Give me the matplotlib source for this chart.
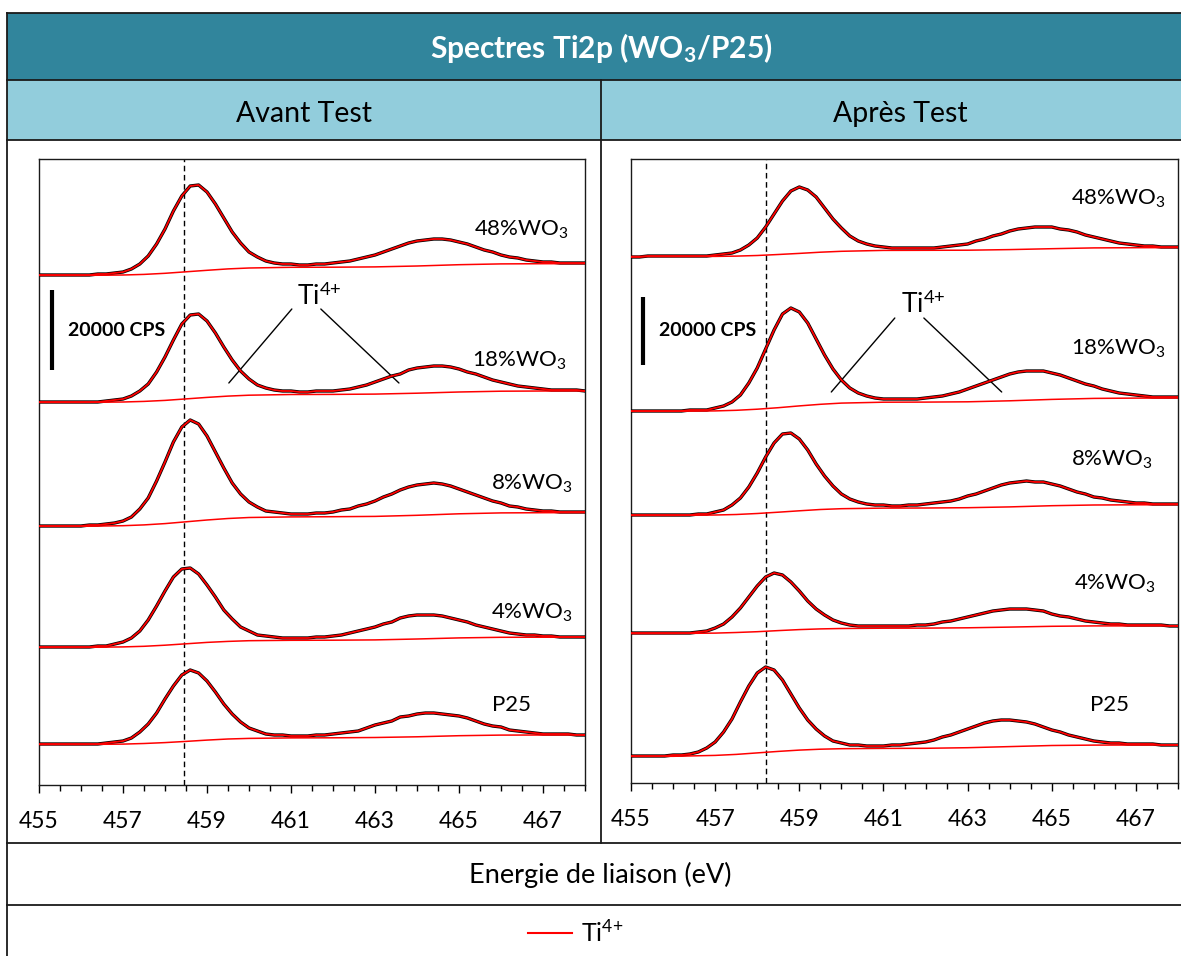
import matplotlib
matplotlib.use("Agg")
import matplotlib.pyplot as plt
from matplotlib.lines import Line2D
from matplotlib.patches import Rectangle

plt.rcParams["font.family"] = "Lato"
plt.rcParams["mathtext.fontset"] = "custom"
plt.rcParams["mathtext.rm"] = "Lato"
plt.rcParams["mathtext.it"] = "Lato:italic"
plt.rcParams["mathtext.bf"] = "Lato:bold"

# binding energy (eV), 0.2 eV steps
energy = [455.0, 455.2, 455.4, 455.6, 455.8, 456.0, 456.2, 456.4, 456.6, 456.8,
          457.0, 457.2, 457.4, 457.6, 457.8, 458.0, 458.2, 458.4, 458.6, 458.8,
          459.0, 459.2, 459.4, 459.6, 459.8, 460.0, 460.2, 460.4, 460.6, 460.8,
          461.0, 461.2, 461.4, 461.6, 461.8, 462.0, 462.2, 462.4, 462.6, 462.8,
          463.0, 463.2, 463.4, 463.6, 463.8, 464.0, 464.2, 464.4, 464.6, 464.8,
          465.0, 465.2, 465.4, 465.6, 465.8, 466.0, 466.2, 466.4, 466.6, 466.8,
          467.0, 467.2, 467.4, 467.6, 467.8, 468.0]
bg_energy = [455, 456, 457, 457.5, 458, 458.5, 459, 459.5, 460, 461, 462, 463, 464, 465, 466, 467, 468]

samples = ["48%WO$_3$", "18%WO$_3$", "8%WO$_3$", "4%WO$_3$", "P25"]

# intensity above each spectrum's own baseline (arb. units, see cps_per_unit)
avant_48 = [1, 1, 1, 1, 1, 1, 1, 2, 2, 3, 4, 7, 12, 20, 32, 47, 65, 80, 90, 91,
            84, 72, 58, 44, 33, 24, 19, 15, 13, 12, 12, 11, 11, 12, 12, 13, 14, 15, 17, 19,
            21, 24, 27, 30, 33, 35, 36, 37, 37, 36, 34, 32, 29, 26, 24, 21, 19, 18, 16, 15,
            14, 14, 13, 13, 13, 13]
avant_18 = [1, 1, 1, 1, 1, 1, 1, 1, 2, 3, 4, 7, 12, 19, 31, 46, 63, 79, 88, 89,
            82, 70, 56, 43, 32, 24, 18, 15, 13, 12, 12, 11, 11, 12, 12, 12, 13, 14, 16, 18,
            21, 24, 27, 29, 33, 35, 36, 37, 37, 36, 34, 31, 29, 26, 23, 21, 19, 17, 16, 15,
            14, 13, 13, 13, 13, 12]
avant_8 = [1, 1, 1, 1, 1, 1, 2, 2, 3, 4, 6, 10, 18, 29, 46, 65, 85, 100, 107, 103,
           91, 75, 59, 44, 33, 25, 20, 16, 15, 14, 13, 13, 13, 14, 14, 15, 17, 18, 21, 23,
           26, 30, 33, 37, 40, 42, 43, 44, 43, 41, 38, 35, 32, 29, 26, 24, 21, 20, 18, 17,
           16, 16, 15, 15, 15, 15]
avant_4 = [1, 1, 1, 1, 1, 1, 1, 2, 2, 4, 6, 10, 17, 28, 42, 57, 71, 79, 80, 74,
           63, 51, 38, 29, 21, 17, 13, 12, 11, 10, 10, 10, 10, 11, 11, 12, 13, 15, 17, 19,
           21, 24, 26, 30, 32, 33, 33, 33, 32, 30, 28, 26, 23, 21, 19, 17, 15, 14, 13, 13,
           12, 12, 11, 11, 11, 11]
avant_p25 = [1, 1, 1, 1, 1, 1, 1, 1, 2, 3, 4, 7, 13, 21, 32, 46, 59, 70, 75, 72,
             64, 53, 41, 31, 23, 17, 14, 11, 10, 10, 9, 9, 9, 10, 10, 11, 12, 13, 14, 17,
             20, 22, 24, 28, 29, 31, 32, 32, 31, 30, 29, 27, 24, 21, 19, 18, 15, 14, 13, 12,
             11, 11, 11, 11, 10, 10]

apres_48 = [0, 0, 1, 1, 1, 1, 1, 1, 1, 1, 2, 3, 4, 7, 12, 19, 30, 43, 56, 66,
            70, 67, 60, 49, 38, 29, 21, 16, 13, 11, 10, 9, 9, 9, 9, 9, 9, 10, 11, 12,
            13, 16, 18, 21, 23, 26, 28, 29, 30, 30, 30, 28, 27, 25, 22, 20, 18, 16, 14, 13,
            12, 11, 11, 10, 10, 10]
apres_18 = [1, 1, 1, 1, 1, 1, 1, 2, 2, 2, 4, 6, 10, 17, 29, 44, 63, 82, 98, 104,
            100, 89, 73, 57, 43, 32, 24, 19, 16, 14, 13, 13, 13, 13, 13, 14, 15, 16, 18, 20,
            23, 26, 29, 32, 35, 38, 40, 41, 41, 41, 39, 37, 34, 31, 28, 26, 23, 21, 19, 18,
            17, 16, 15, 15, 15, 15]
apres_8 = [1, 1, 1, 1, 1, 1, 1, 1, 2, 2, 4, 6, 11, 18, 29, 43, 59, 73, 82, 83,
           77, 66, 52, 40, 30, 22, 17, 14, 12, 11, 11, 10, 10, 11, 11, 12, 13, 14, 15, 17,
           20, 22, 25, 28, 31, 33, 34, 35, 34, 34, 32, 30, 27, 24, 22, 19, 18, 16, 15, 14,
           13, 13, 12, 12, 12, 12]
apres_4 = [1, 1, 1, 1, 1, 1, 1, 1, 2, 3, 6, 10, 17, 26, 37, 48, 57, 61, 59, 52,
           43, 33, 25, 19, 14, 11, 9, 8, 8, 8, 8, 8, 8, 8, 9, 9, 10, 12, 13, 15,
           17, 19, 21, 23, 24, 25, 25, 25, 24, 23, 20, 18, 17, 15, 13, 12, 11, 10, 10, 9,
           9, 9, 9, 9, 8, 8]
apres_p25 = [1, 1, 1, 1, 1, 2, 2, 3, 5, 9, 15, 25, 38, 55, 71, 84, 90, 87, 77, 63,
             49, 37, 28, 21, 16, 14, 12, 12, 11, 11, 11, 12, 12, 13, 14, 15, 17, 20, 22, 25,
             28, 31, 34, 36, 37, 37, 36, 35, 33, 30, 27, 25, 22, 20, 18, 16, 15, 14, 14, 13,
             13, 13, 13, 12, 12, 12]

# Shirley-type backgrounds (thin red lines)
avant_bg_48 = [0.6, 0.6, 1.0, 1.6, 2.7, 4.2, 5.7, 7.1, 8.0, 8.7, 8.8, 9.1, 10.0, 11.3, 12.1, 12.3, 12.4]
avant_bg_18 = [0.6, 0.6, 1.0, 1.6, 2.6, 4.1, 5.6, 6.9, 7.8, 8.5, 8.6, 8.9, 9.8, 11.0, 11.8, 12.0, 12.1]
avant_bg_8 = [0.7, 0.7, 1.3, 2.1, 3.4, 5.2, 7.0, 8.5, 9.5, 10.1, 10.3, 10.6, 11.7, 13.2, 14.1, 14.3, 14.4]
avant_bg_4 = [0.6, 0.6, 1.1, 1.7, 2.8, 4.2, 5.6, 6.6, 7.3, 7.7, 7.8, 8.1, 9.0, 10.1, 10.7, 10.8, 10.9]
avant_bg_p25 = [0.5, 0.5, 0.9, 1.5, 2.4, 3.6, 4.9, 6.0, 6.6, 7.1, 7.2, 7.5, 8.2, 9.3, 9.9, 10.0, 10.1]

apres_bg_48 = [0.5, 0.5, 0.6, 0.9, 1.5, 2.5, 3.6, 4.8, 5.7, 6.6, 6.7, 6.8, 7.4, 8.3, 9.1, 9.3, 9.4]
apres_bg_18 = [0.7, 0.7, 1.1, 1.7, 2.8, 4.3, 6.1, 7.7, 8.9, 9.8, 9.9, 10.2, 11.2, 12.6, 13.6, 13.9, 14.0]
apres_bg_8 = [0.6, 0.6, 1.0, 1.5, 2.5, 3.8, 5.2, 6.5, 7.3, 7.9, 8.0, 8.3, 9.1, 10.3, 11.0, 11.2, 11.3]
apres_bg_4 = [0.4, 0.5, 0.9, 1.5, 2.3, 3.4, 4.4, 5.1, 5.5, 5.8, 5.9, 6.2, 6.9, 7.7, 8.1, 8.1, 8.2]
apres_bg_p25 = [0.6, 0.7, 1.6, 2.6, 4.1, 5.6, 6.9, 7.8, 8.3, 8.6, 8.7, 9.3, 10.4, 11.5, 11.9, 12.0, 12.1]

# vertical stacking of the spectra
avant_offset = [509, 382, 258, 137, 40]
apres_offset = [526, 371, 267, 149, 26]

cps_per_unit = [250, 294]
ref_energy = [458.46, 458.2]   # dashed reference line

W, H = 1181, 956
fig = plt.figure(figsize=(W / 100, H / 100), dpi=100)


def fx(x):
    return x / W


def fy(y):
    return 1 - y / H


# ---- table frame ----
teal = "#31859C"
light = "#92CDDC"
fig.add_artist(Rectangle((fx(7), fy(80)), fx(1196) - fx(7), fy(13) - fy(80),
                         transform=fig.transFigure, facecolor=teal, edgecolor="none"))
fig.add_artist(Rectangle((fx(7), fy(140)), fx(1196) - fx(7), fy(80) - fy(140),
                         transform=fig.transFigure, facecolor=light, edgecolor="none"))
for yy in [13, 80, 140, 843, 905]:
    fig.add_artist(Line2D([fx(7), fx(1196)], [fy(yy), fy(yy)], transform=fig.transFigure,
                          color="#1a1a1a", lw=1.3))
fig.add_artist(Line2D([fx(7), fx(7)], [fy(13), fy(960)], transform=fig.transFigure,
                      color="#1a1a1a", lw=1.3))
fig.add_artist(Line2D([fx(601), fx(601)], [fy(80), fy(843)], transform=fig.transFigure,
                      color="#1a1a1a", lw=1.3))

fig.text(fx(601), fy(58), "Spectres Ti2p (WO$_\\mathbf{3}$/P25)", color="white",
         fontsize=21.5, fontweight="bold", ha="center", va="baseline")
fig.text(fx(304), fy(122), "Avant Test", fontsize=20.5, ha="center", va="baseline")
fig.text(fx(900), fy(122), "Après Test", fontsize=20.5, ha="center", va="baseline")
fig.text(fx(600), fy(883), "Energie de liaison (eV)", fontsize=19.5, ha="center", va="baseline")


def draw_panel(ax, spectra, bgs, offsets, label_pos, ref, unit, bar, ti_text, ti_lines):
    for vals, bg, off in zip(spectra, bgs, offsets):
        ax.plot(energy, [v + off for v in vals], color="black", lw=2.4, zorder=3)
        ax.plot(energy, [v + off for v in vals], color="red", lw=1.3, zorder=4)
        ax.plot(bg_energy, [b + off for b in bg], color="red", lw=1.1, zorder=4)
    for name, (lx, ly) in zip(samples, label_pos):
        ax.text(lx, ly, name, fontsize=16, ha="center", va="baseline")
    ax.axvline(ref, color="black", lw=1.0, ls=(0, (4, 2.6)), zorder=2)
    # 20000 CPS scale bar
    bx, by = bar
    ax.plot([bx, bx], [by, by + 20000 / unit], color="black", lw=3, solid_capstyle="butt")
    ax.text(bx + 0.38, by + 10000 / unit, "20000 CPS", fontsize=14, fontweight="bold",
            ha="left", va="center")
    ax.text(ti_text[0], ti_text[1], "Ti$^{4{+}}$", fontsize=19, ha="left", va="baseline")
    for (x0, y0), (x1, y1) in ti_lines:
        ax.annotate("", xy=(x1, y1), xytext=(x0, y0),
                    arrowprops=dict(arrowstyle="-", lw=1.0, color="black",
                                    shrinkA=0, shrinkB=0))
    ax.set_xlim(455, 468)
    ax.set_xticks([455, 457, 459, 461, 463, 465, 467])
    ax.set_xticks([455 + 0.5 * i for i in range(27)], minor=True)
    ax.set_yticks([])
    ax.tick_params(axis="x", which="major", direction="out", length=6, width=1,
                   labelsize=16.5, pad=13)
    ax.tick_params(axis="x", which="minor", direction="out", length=4, width=1)
    for s in ax.spines.values():
        s.set_linewidth(1.0)
        s.set_color("#1a1a1a")


ax1 = fig.add_axes([fx(39), fy(785), (585 - 39) / W, (785 - 159) / H])
ax1.set_ylim(0, 626)
draw_panel(ax1,
           [avant_48, avant_18, avant_8, avant_4, avant_p25],
           [avant_bg_48, avant_bg_18, avant_bg_8, avant_bg_4, avant_bg_p25],
           avant_offset,
           [(466.48, 549), (466.45, 418), (466.73, 295), (466.73, 166), (466.24, 74)],
           ref_energy[0], cps_per_unit[0], (455.31, 415),
           (461.14, 480),
           [((461.02, 476), (459.52, 402)), ((461.71, 476), (463.57, 402))])

ax2 = fig.add_axes([fx(631), fy(783), (1178 - 631) / W, (783 - 159) / H])
ax2.set_ylim(0, 624)
draw_panel(ax2,
           [apres_48, apres_18, apres_8, apres_4, apres_p25],
           [apres_bg_48, apres_bg_18, apres_bg_8, apres_bg_4, apres_bg_p25],
           apres_offset,
           [(466.58, 578), (466.58, 428), (466.43, 317), (466.51, 193), (466.37, 72)],
           ref_energy[1], cps_per_unit[1], (455.28, 418),
           (461.41, 470),
           [((461.27, 465), (459.76, 391)), ((461.96, 465), (463.81, 391))])

handle = Line2D([], [], color="red", lw=1.5)
fig.legend([handle], ["Ti$^{4{+}}$"], loc="center", bbox_to_anchor=(fx(576), fy(932)),
           frameon=False, fontsize=18, handlelength=1.76, handletextpad=0.36,
           borderpad=0, borderaxespad=0)

fig.savefig("out.png", dpi=100)
